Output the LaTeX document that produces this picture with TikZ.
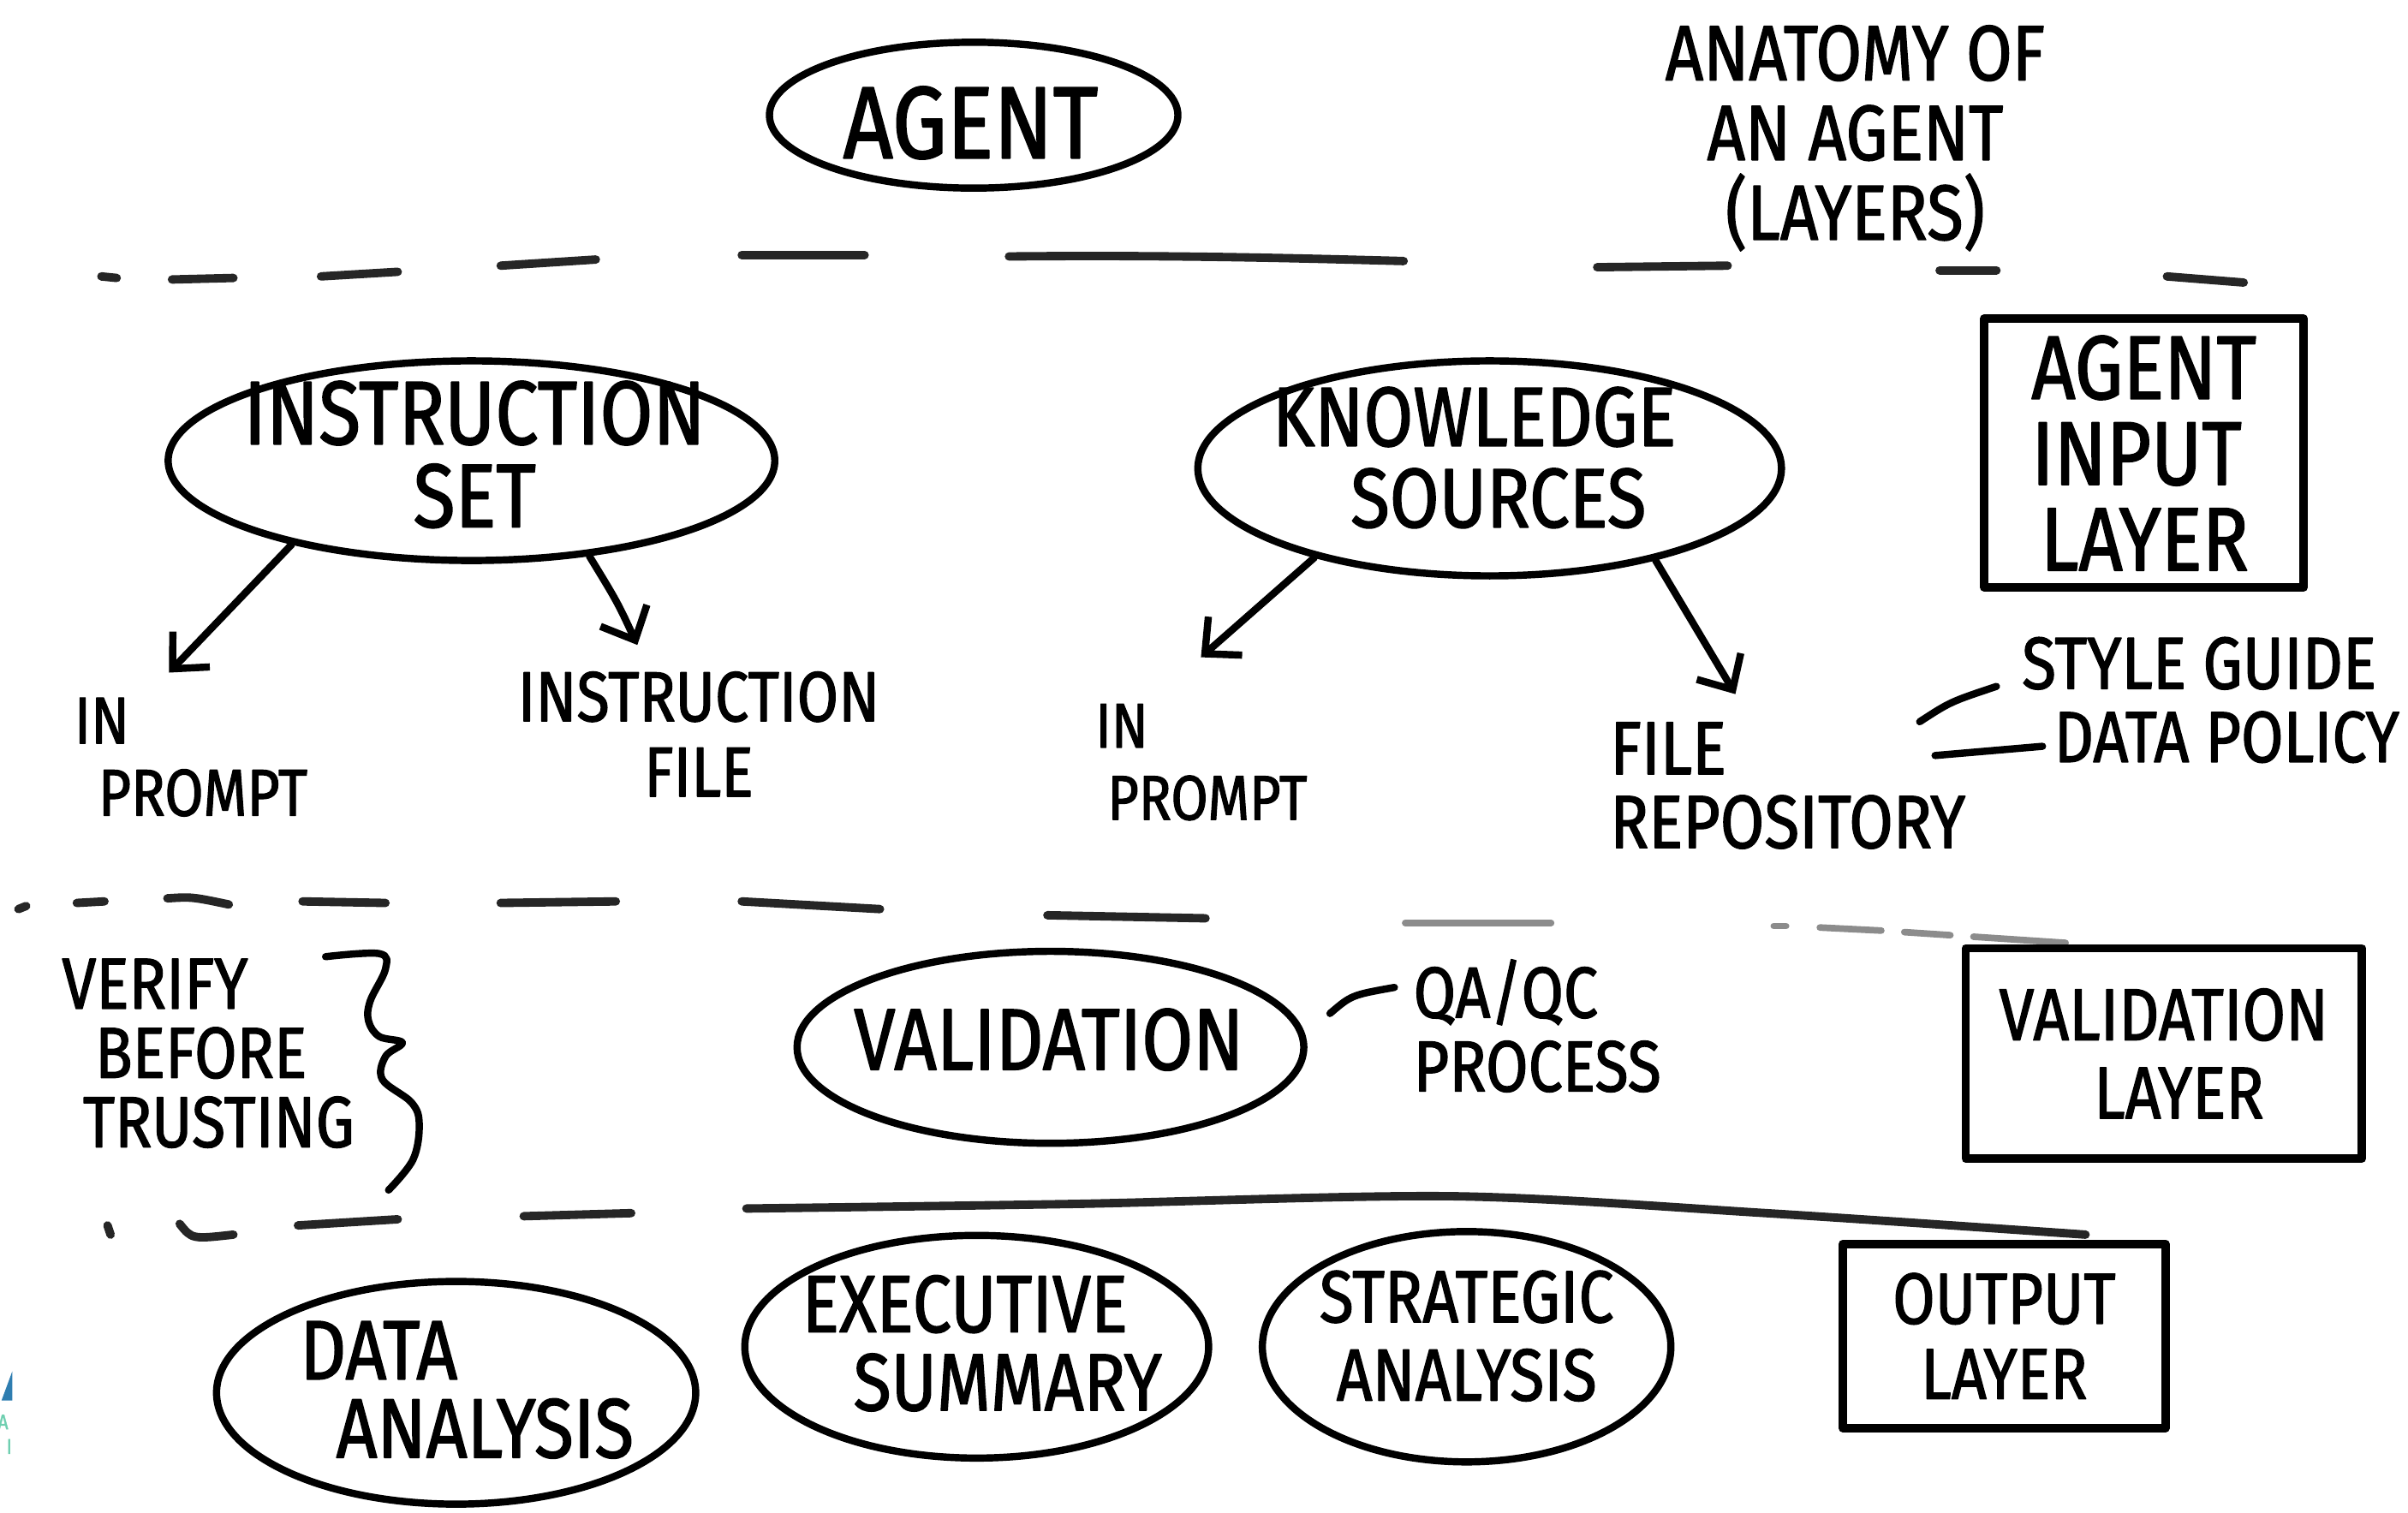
\documentclass[tikz,border=0pt]{standalone}
\usepackage{fontspec}
\setmainfont[FakeStretch=0.85, FakeBold=1.5]{Fira Sans}
\usetikzlibrary{shapes.geometric, arrows.meta}
\newcommand\fsz[2]{\fontsize{#1}{#2}\selectfont}
\definecolor{logoblue}{HTML}{2E7DB0}
\definecolor{logoteal}{HTML}{6FCFB0}
\begin{document}
\begin{tikzpicture}[x=0.017934cm, y=-0.017934cm, line cap=round, line join=round,
  ink/.style={line width=2.4pt, black},
  dsh/.style={line width=2.8pt, black!85},
  faint/.style={line width=2.2pt, black!45},
  oval/.style 2 args={ellipse, draw, line width=2.4pt, minimum width=#1*0.017934cm, minimum height=#2*0.017934cm, inner sep=0pt},
  frame/.style 2 args={rectangle, draw, line width=2.8pt, minimum width=#1*0.017934cm, minimum height=#2*0.017934cm, inner sep=0pt},
  lbl/.style={inner sep=0pt, align=center},
  lbll/.style={inner sep=0pt, align=left},
  arr/.style={ink, -{Straight Barb[length=9pt, width=17pt, line width=2.4pt]}}
]
\useasboundingbox (0,0) rectangle (1568,985);

% ---------- top ----------
\node[oval={266}{95}] (agent) at (634,75) {};
\node[lbl, font=\fsz{34}{30}] (agentT) at (632,80) {AGENT};
\node[lbl, font=\fsz{26}{26.5}] (title) at (1208,90) {ANATOMY OF\\AN AGENT\\(LAYERS)};

% dashed divider 1
\draw[dsh] (66,180) -- (76,181);
\draw[dsh] (112,182) -- (152,181);
\draw[dsh] (209,180) -- (259,177);
\draw[dsh] (326,173) -- (388,169);
\draw[dsh] (483,166) -- (563,166);
\draw[dsh] (657,167) .. controls (760,166) and (840,168) .. (914,170);
\draw[dsh] (1040,174) -- (1125,173);
\draw[dsh] (1263,176) -- (1300,176);
\draw[dsh] (1411,180) -- (1461,184);

% ---------- input layer ----------
\node[oval={395}{130}] (is) at (307,300) {};
\node[lbl, font=\fsz{30}{27.5}] (isT) at (309,296) {INSTRUCTION\\SET};

\node[lbll, font=\fsz{22}{24}, anchor=north west] (inp1) at (48,454) {IN\\\hspace*{8pt}PROMPT};
\node[lbl, font=\fsz{23.5}{25}] (ifile) at (455,478) {INSTRUCTION\\FILE};
\coordinate (a1e) at (110,438);
\coordinate (a2e) at (415,420);
\draw[arr] (is.205) -- (a1e);
\draw[arr] (is.321) .. controls (402,392) .. (a2e);

\node[oval={380}{140}] (ks) at (970,305) {};
\node[lbl, font=\fsz{28}{27}] (ksT) at (960,298) {KNOWLEDGE\\\hspace*{16pt}SOURCES};

\node[lbll, font=\fsz{21}{24}, anchor=north west] (inp2) at (713,458) {IN\\\hspace*{4pt}PROMPT};
\node[lbll, font=\fsz{25}{24.5}, anchor=north west] (frepo) at (1048,470) {FILE\\REPOSITORY};
\coordinate (a3e) at (782,428);
\coordinate (a4e) at (1130,452);
\draw[arr] (ks.207) -- (a3e);
\draw[arr] (ks.331) -- (a4e);

\node[lbl, font=\fsz{24.5}{24}] (sg) at (1432,432) {STYLE GUIDE};
\node[lbl, font=\fsz{24}{24}] (dp) at (1450,480) {DATA POLICY};
\coordinate (s1) at (1250,470);
\coordinate (s1e) at (1300,447);
\coordinate (s2) at (1260,492);
\coordinate (s2e) at (1330,486);
\draw[ink] (s1) .. controls (1270,457) .. (s1e);
\draw[ink] (s2) -- (s2e);

\node[frame={208}{175}, lbll, font=\fsz{30}{28.5}] (inbox) at (1396,295) {AGENT\\INPUT\\\hspace*{3pt}LAYER};

% dashed divider 2
\draw[dsh] (12,592) -- (17,590);
\draw[dsh] (50,588) -- (68,587);
\draw[dsh] (109,585) .. controls (125,584) .. (149,589);
\draw[dsh] (197,587) -- (251,588);
\draw[dsh] (326,588) -- (401,587);
\draw[dsh] (483,587) -- (573,592);
\draw[dsh] (682,596) -- (785,598);
\draw[faint] (915,601) -- (1010,601);
\draw[faint] (1155,603) -- (1163,603);
\draw[faint] (1185,604) -- (1225,606);
\draw[faint] (1240,607) -- (1270,609);
\draw[faint] (1285,610) -- (1345,614);

% ---------- validation layer ----------
\node[lbll, font=\fsz{24}{23}, anchor=north west] (verify) at (40,624) {VERIFY\\\hspace*{11pt}BEFORE\\\hspace*{7pt}TRUSTING};
\draw[ink] plot[smooth, tension=0.6] coordinates {(212,623) (247,621) (251,631) (241,652) (240,665) (247,675) (262,679) (251,688) (249,703) (268,718) (273,732) (269,755) (253,775)};

\node[oval={330}{125}] (val) at (684,682) {};
\node[lbl, font=\fsz{29}{26}] (valT) at (683,677) {VALIDATION};
\node[lbll, font=\fsz{24}{24.5}, anchor=west] (qa) at (920,668) {QA/QC\\PROCESS};
\coordinate (q1) at (866,660);
\coordinate (q1e) at (908,643);
\draw[ink] (q1) .. controls (880,648) .. (q1e);

\node[frame={258}{137}, lbl, font=\fsz{24.5}{26}] (vbox) at (1409,686) {VALIDATION\\\hspace*{10pt}LAYER};

% dashed divider 3
\draw[dsh] (70,798) -- (72,804);
\draw[dsh] (117,797) .. controls (125,807) .. (152,804);
\draw[dsh] (194,798) -- (259,794);
\draw[dsh] (341,792) -- (411,790);
\draw[dsh] plot[smooth, tension=0.5] coordinates {(486,787) (700,784) (946,779) (1150,790) (1358,804)};

% ---------- output layer ----------
\node[oval={312}{145}] (da) at (297,907) {};
\node[lbll, font=\fsz{28}{26}, anchor=north west] (daT) at (195,860) {DATA\\\hspace*{12pt}ANALYSIS};
\node[oval={302}{145}] (es) at (636,877) {};
\node[lbll, font=\fsz{27}{26}, anchor=north west] (esT) at (522,830) {EXECUTIVE\\\hspace*{17pt}SUMMARY};
\node[oval={266}{150}] (sa) at (955,877) {};
\node[lbl, font=\fsz{24.5}{26}] (saT) at (955,870) {STRATEGIC\\ANALYSIS};
\node[frame={210}{120}, lbl, font=\fsz{24}{25}] (obox) at (1305,870) {OUTPUT\\LAYER};

% ---------- cut-off logo at left edge ----------
\fill[logoblue] (1,912) -- (8,893) -- (8,912) -- cycle;
\node[inner sep=0pt, text=logoteal, font=\fsz{7}{8}] (logoA) at (2,926) {A};
\node[inner sep=0pt, text=logoteal, font=\fsz{7}{8}] (logoI) at (6,942) {I};
\end{tikzpicture}
\end{document}
